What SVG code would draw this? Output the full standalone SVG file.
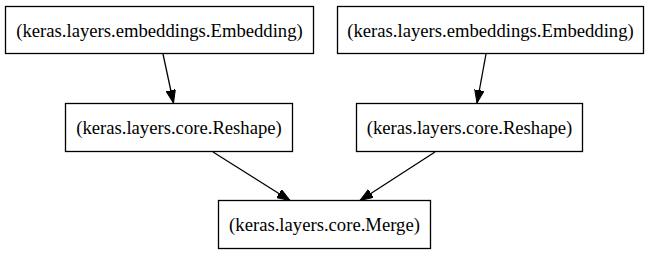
<svg xmlns="http://www.w3.org/2000/svg" width="651" height="255" viewBox="0 0 651 255">
<style>
.box{fill:#fff;stroke:#000;stroke-width:1.3}
.lbl{font-family:"Liberation Serif","Times New Roman",serif;font-size:18.67px;text-anchor:middle;fill:#000}
.edge{stroke:#000;stroke-width:1.3;fill:none}
</style>
<defs>
<marker id="arr" markerUnits="userSpaceOnUse" markerWidth="14" markerHeight="10" refX="13" refY="4.7" orient="auto">
<path d="M0,0 L13,4.7 L0,9.4 z" fill="#000" stroke="#000" stroke-width="1"/>
</marker>
</defs>
<rect width="651" height="255" fill="#fff"/>
<g id="connectors">
<line class="edge" x1="163" y1="54" x2="173.5" y2="103" marker-end="url(#arr)"/>
<line class="edge" x1="486" y1="54" x2="477" y2="103" marker-end="url(#arr)"/>
<line class="edge" x1="213" y1="152" x2="290" y2="200.5" marker-end="url(#arr)"/>
<line class="edge" x1="435" y1="152" x2="360" y2="200.5" marker-end="url(#arr)"/>
</g>
<g id="emb1"><rect class="box" x="5.5" y="6.5" width="308" height="47"/><text class="lbl" x="159.5" y="36.5">(keras.layers.embeddings.Embedding)</text></g>
<g id="emb2"><rect class="box" x="337.5" y="6.5" width="306" height="47"/><text class="lbl" x="490.5" y="36.5">(keras.layers.embeddings.Embedding)</text></g>
<g id="reshape1"><rect class="box" x="65.5" y="103.5" width="227" height="48"/><text class="lbl" x="179" y="133.5">(keras.layers.core.Reshape)</text></g>
<g id="reshape2"><rect class="box" x="356.5" y="103.5" width="226" height="48"/><text class="lbl" x="469.5" y="133.5">(keras.layers.core.Reshape)</text></g>
<g id="merge"><rect class="box" x="218.5" y="200.5" width="212" height="48"/><text class="lbl" x="324.5" y="230.5">(keras.layers.core.Merge)</text></g>
</svg>
